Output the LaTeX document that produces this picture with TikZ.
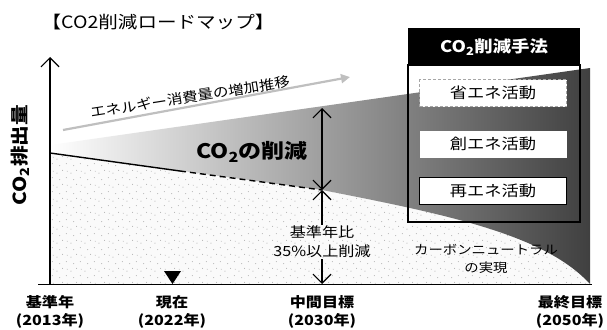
\documentclass[tikz,border=0pt]{standalone}
\usepackage{fontspec}
\setmainfont[FakeStretch=1.15]{Noto Sans CJK JP}
\usetikzlibrary{arrows.meta,patterns.meta}

\tikzdeclarepattern{
  name=sparsedots, type=uncolored,
  bounding box={(0,0) and (14pt,14pt)},
  tile size={(14pt,14pt)},
  code={
    \fill (1pt,2pt) circle (0.5pt);
    \fill (7pt,5pt) circle (0.5pt);
    \fill (4pt,10pt) circle (0.5pt);
    \fill (11pt,12pt) circle (0.5pt);
    \fill (12pt,4pt) circle (0.5pt);
  }
}

\tikzset{
  barb/.style={line width=1.2pt, arrows={-Straight Barb[length=9pt,width=18pt,line width=1.2pt]}},
  dbarb/.style={line width=1.2pt, arrows={Straight Barb[length=9pt,width=18pt,line width=1.2pt]-Straight Barb[length=9pt,width=18pt,line width=1.2pt]}},
  ubarb/.style={line width=1.2pt, arrows={Straight Barb[length=9pt,width=18pt,line width=1.2pt]-}},
  methodbox/.style={fill=white, minimum width=147pt, minimum height=27pt, inner sep=0pt, font=\fontsize{15}{18}\selectfont},
  yearlbl/.style={align=center, font=\fontsize{14}{18}\selectfont\bfseries, inner sep=0pt},
}

\begin{document}
\begin{tikzpicture}[x=1pt,y=-1pt]
\useasboundingbox (0,0) rectangle (607,329);

\coordinate (e0) at (50,153);
\coordinate (e1) at (180,171);
\coordinate (m) at (322,190);
\coordinate (br) at (590,284);
\coordinate (tr) at (590,68);
\coordinate (tl) at (50,145);
\coordinate (o) at (50,284);
\coordinate (ytop) at (50,57);
\coordinate (ctop) at (322,108);
\coordinate (mb) at (322,284);
\coordinate (xl) at (38,284);
\coordinate (xr) at (592,284);
\coordinate (ea) at (63,130);
\coordinate (eb) at (350,77);

% lower stippled area
\fill[gray!4] (o) -- (e0) -- (m) .. controls (450,215) and (545,235) .. (br) -- cycle;
\fill[pattern=sparsedots, pattern color=gray!80] (o) -- (e0) -- (m) .. controls (450,215) and (545,235) .. (br) -- cycle;

% reduction wedge (gradient)
\shade[left color=white, middle color=black!15, right color=black!75]
  (e0) -- (m) .. controls (450,215) and (545,235) .. (br) -- (tr) -- (tl) -- cycle;

% emission line
\draw[line width=1.4pt] (e0) -- (e1);
\draw[line width=1.4pt, dash pattern=on 6pt off 4pt] (e1) -- (m);

% energy trend arrow
\draw[gray!50, line width=2.2pt, -{Triangle[length=9pt,width=9pt]}] (ea) -- (eb);
\node[rotate=9, font=\fontsize{13.5}{16}\selectfont, inner sep=0pt] (etxt) at (190,97) {エネルギー消費量の増加推移};

% axes
\draw[line width=1pt] (xl) -- (xr);
\draw[barb] (o) -- (ytop);

% current marker
\fill (164,271) -- (181,271) -- (172.5,284) -- cycle;

% reduction arrows
\draw[dbarb] (m) -- (ctop);
\node[align=center, font=\fontsize{14}{19}\selectfont, inner sep=1pt] (pct) at (322,242) {基準年比\\35\%以上削減};
\draw[ubarb] (m) -- (pct.north);
\draw[barb] (pct.south) -- (mb);

\node[font=\fontsize{20}{22}\selectfont\bfseries, inner sep=0pt] (red) at (252,152) {CO\textsubscript{2}の削減};

% methods box
\draw[line width=1.5pt] (408,65) rectangle (580,222);
\fill[black] (408,28) rectangle (580,66);
\node[text=white, font=\fontsize{16}{18}\selectfont\bfseries, inner sep=0pt] (hdr) at (494,47) {CO\textsubscript{2}削減手法};
\node[methodbox, draw=gray!70, densely dashed] (b1) at (493,93) {省エネ活動};
\node[methodbox] (b2) at (493,144) {創エネ活動};
\node[methodbox, draw=black, line width=1pt] (b3) at (493,191) {再エネ活動};

% carbon neutral
\node[align=center, font=\fontsize{12.5}{18}\selectfont, inner sep=0pt] (cn) at (486,259) {カーボンニュートラル\\の実現};

% title & axis label
\node[font=\fontsize{17}{20}\selectfont, inner sep=0pt] (title) at (158,22) {【CO2削減ロードマップ】};
\node[rotate=90, font=\fontsize{18}{20}\selectfont\bfseries, inner sep=0pt] (ylbl) at (20,155) {CO\textsubscript{2}排出量};

% year labels
\node[yearlbl] (y1) at (50,312) {基準年\\(2013年)};
\node[yearlbl] (y2) at (172,312) {現在\\(2022年)};
\node[yearlbl] (y3) at (322,312) {中間目標\\(2030年)};
\node[yearlbl] (y4) at (570,312) {最終目標\\(2050年)};
\end{tikzpicture}
\end{document}
